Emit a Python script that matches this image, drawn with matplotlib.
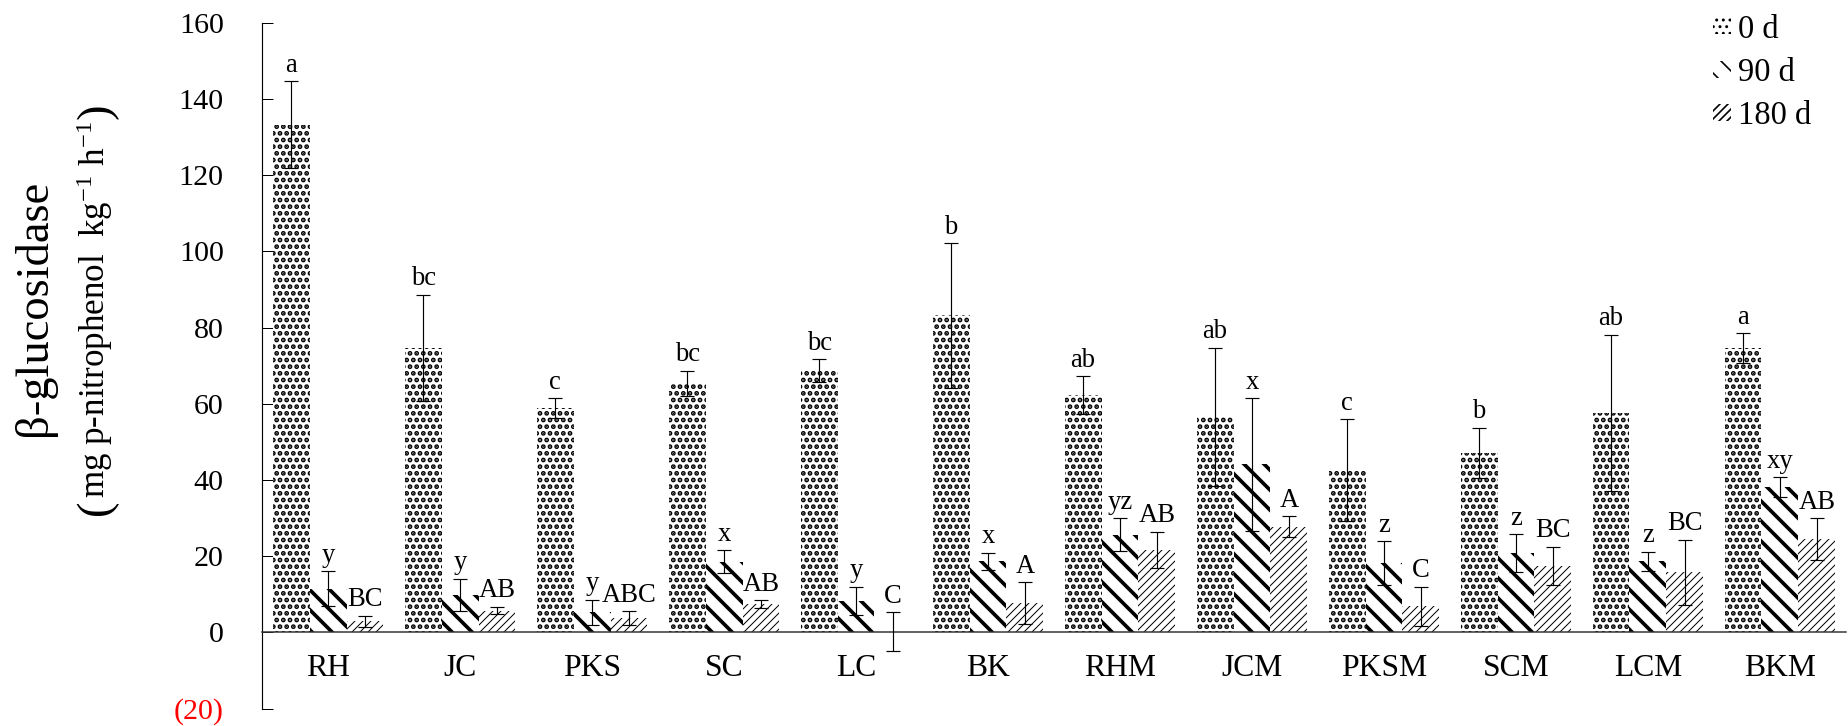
import numpy as np
import matplotlib
matplotlib.use("Agg")
import matplotlib.pyplot as plt
from matplotlib.transforms import IdentityTransform

plt.rcParams.update({
    "font.family": ["Liberation Serif", "DejaVu Serif"],
    "mathtext.fontset": "custom",
    "mathtext.rm": "Liberation Serif",
    "mathtext.it": "Liberation Serif:italic",
})

# ── data ──────────────────────────────────────────────────────────────
groups = ["RH", "JC", "PKS", "SC", "LC", "BK", "RHM", "JCM", "PKSM", "SCM", "LCM", "BKM"]

d0     = [133.2, 74.6, 58.8, 65.3, 68.7, 83.2, 62.3, 56.5, 42.6, 47.1, 57.6, 74.6]
d0_err = [11.4, 14.0, 2.6, 3.4, 3.0, 19.0, 5.0, 18.2, 13.3, 6.6, 20.5, 4.0]
d0_let = ["a", "bc", "c", "bc", "bc", "b", "ab", "ab", "c", "b", "ab", "a"]

d90     = [11.4, 9.9, 5.2, 18.5, 8.3, 18.6, 25.6, 44.1, 18.2, 20.8, 18.6, 38.1]
d90_err = [4.6, 4.2, 3.4, 3.0, 3.7, 2.3, 4.3, 17.4, 5.8, 5.0, 2.6, 2.6]
d90_let = ["y", "y", "y", "x", "y", "x", "yz", "x", "z", "z", "z", "xy"]

d180     = [2.9, 5.7, 3.7, 7.4, 0.2, 7.7, 21.6, 27.7, 6.8, 17.5, 15.7, 24.4]
d180_err = [1.5, 1.0, 1.8, 1.0, 5.0, 5.5, 4.8, 2.8, 5.2, 5.0, 8.6, 5.5]
d180_let = ["BC", "AB", "ABC", "AB", "C", "A", "AB", "A", "C", "BC", "BC", "AB"]

series = [
    ("0 d",   d0,   d0_err,   d0_let,   "...",   2.0),
    ("90 d",  d90,  d90_err,  d90_let,  "\\\\",  2.2),
    ("180 d", d180, d180_err, d180_let, "/////", 0.6),
]

yticks = [-20, 0, 20, 40, 60, 80, 100, 120, 140, 160]
ytick_labels = ["(20)", "0", "20", "40", "60", "80", "100", "120", "140", "160"]

# ── figure ────────────────────────────────────────────────────────────
fig = plt.figure(figsize=(15.4, 6.05), dpi=120)
ax = fig.add_axes([0.1418, 0.0241, 0.8571, 0.9446])

x = np.arange(len(groups))
W = 0.28

for k, (lbl, vals, errs, lets, hatch, hlw) in enumerate(series):
    xs = x + (k - 1) * W
    with plt.rc_context({"hatch.linewidth": hlw}):
        bars = ax.bar(xs, vals, W, color="white", edgecolor="black",
                      linewidth=0, hatch=hatch, label=lbl, zorder=2)
    for p in bars:
        if hasattr(p, "set_hatch_linewidth"):
            p.set_hatch_linewidth(hlw)
    ax.errorbar(xs, vals, yerr=errs, fmt="none", ecolor="black",
                elinewidth=0.7, capsize=4, capthick=0.7, zorder=3)
    for xi, v, e, t in zip(xs, vals, errs, lets):
        ax.annotate(t, (xi, v + e), xytext=(0, 2), textcoords="offset points",
                    ha="center", va="bottom", fontsize=16)

ax.set_xlim(-0.5, len(groups) - 0.5)
ax.set_ylim(-20, 160)

ax.spines["top"].set_visible(False)
ax.spines["right"].set_visible(False)
ax.spines["left"].set_linewidth(0.7)
ax.spines["bottom"].set_position(("data", 0))
ax.spines["bottom"].set_linewidth(0.9)
ax.spines["bottom"].set_color("#333333")

ax.set_yticks(yticks)
ax.set_yticklabels(ytick_labels)
ax.get_yticklabels()[0].set_color("red")
ax.tick_params(axis="y", direction="in", length=6.6, width=0.6, pad=23, labelsize=18)

ax.set_xticks(x)
ax.set_xticklabels(groups)
ax.tick_params(axis="x", length=0, pad=13, labelsize=19)

# y label: title line + unit line with larger parentheses
fig.text(0.0184, 0.5765, "β-glucosidase", rotation=90, ha="center", va="center",
         fontsize=28)
unit = fig.text(0.0514, 0.574, r"mg p-nitrophenol  kg$^{-1}$ h$^{-1}$", rotation=90,
                ha="center", va="center", fontsize=21)
fig.canvas.draw()
bb = unit.get_window_extent()
xc = (bb.x0 + bb.x1) / 2 + 2
fig.text(xc, bb.y0 - 2, "(", rotation=90, ha="center", va="top", fontsize=28,
         transform=IdentityTransform())
fig.text(xc, bb.y1 + 2, ")", rotation=90, ha="center", va="bottom", fontsize=28,
         transform=IdentityTransform())

ax.legend(loc="upper left", bbox_to_anchor=(1713 / 1848, 1 - 14 / 726),
          bbox_transform=fig.transFigure, frameon=False, fontsize=19.5,
          borderpad=0, borderaxespad=0, handlelength=0.55, handleheight=0.42,
          handletextpad=0.22, labelspacing=0.4)

fig.savefig("out.png", dpi=120)
plt.close(fig)
